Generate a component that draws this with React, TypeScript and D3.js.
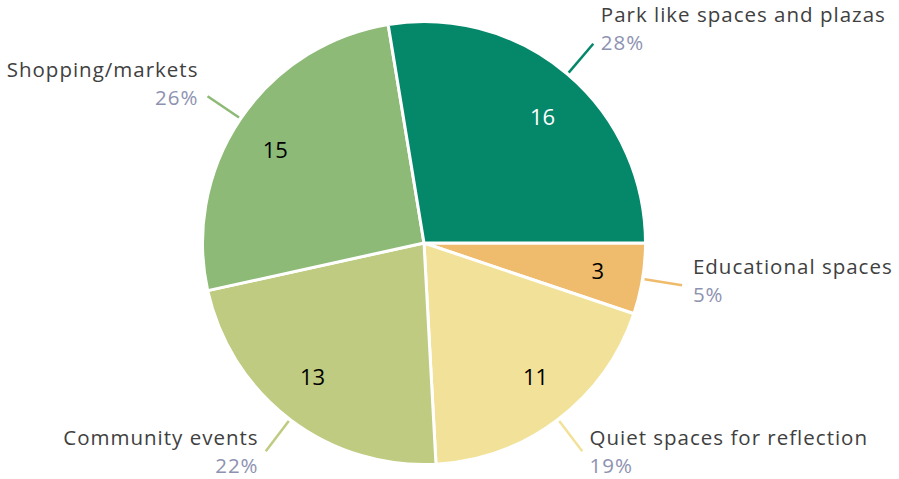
import React from "react";
import * as d3 from "d3";

const categories = [
  "Educational spaces",
  "Quiet spaces for reflection",
  "Community events",
  "Shopping/markets",
  "Park like spaces and plazas",
];
const values = [3, 11, 13, 15, 16];
const colors = ["#EFBB6C", "#F2E299", "#BECB80", "#8DBA76", "#05876A"];
const valueTextColors = ["#000000", "#000000", "#000000", "#000000", "#FFFFFF"];

const W = 899;
const H = 479;
const cx = 424;
const cy = 243;
const R = 221.5;
const FONT = "'Open Sans', sans-serif";

export default function App() {
  const total = d3.sum(values);
  const pie = d3
    .pie<number>()
    .sort(null)
    .startAngle(Math.PI / 2)
    .endAngle(Math.PI / 2 + 2 * Math.PI);
  const arcs = pie(values);
  const arc = d3.arc<d3.PieArcDatum<number>>().innerRadius(0).outerRadius(R);

  const pt = (a: number, r: number) => [Math.sin(a) * r, -Math.cos(a) * r];

  return (
    <svg
      width={W}
      height={H}
      style={{ position: "absolute", left: 0, top: 0, background: "#fff" }}
      fontFamily={FONT}
    >
      <g transform={`translate(${cx},${cy})`}>
        {arcs.map((d, i) => (
          <path key={i} d={arc(d) || ""} fill={colors[i]} stroke="#fff" strokeWidth={3} strokeLinejoin="round" />
        ))}
        {arcs.map((d, i) => {
          const a = (d.startAngle + d.endAngle) / 2;
          const [bx, by] = pt(a, R * 0.79);
          const x = bx + 7 * Math.sign(Math.sin(a)) * Math.abs(Math.cos(a));
          const y = by + 8 * Math.cos(a);
          return (
            <text
              key={"v" + i}
              x={x}
              y={y}
              textAnchor="middle"
              dominantBaseline="central"
              fontSize={22}
              fill={valueTextColors[i]}
            >
              {values[i]}
            </text>
          );
        })}
        {arcs.map((d, i) => {
          const a = (d.startAngle + d.endAngle) / 2;
          const [x1, y1] = pt(a, R + 2);
          const [x2, y2] = pt(a, R + 40);
          const right = Math.sin(a) > 0;
          const gap = 5 + 6 * Math.sin(a) * Math.sin(a);
          const tx = right ? x2 + gap : x2 - gap;
          const c = Math.cos(a);
          const centerY = y2 - 6 - (c > 0 ? 11 : 8) * c;
          const pct = Math.round((values[i] / total) * 100) + "%";
          return (
            <g key={"l" + i}>
              <line x1={x1} y1={y1} x2={x2} y2={y2} stroke={colors[i]} strokeWidth={2.5} />
              <text
                x={tx}
                y={centerY - 7}
                textAnchor={right ? "start" : "end"}
                fontSize={20.5}
                letterSpacing={1}
                fill="#404040"
              >
                {categories[i]}
              </text>
              <text
                x={tx}
                y={centerY + 21}
                textAnchor={right ? "start" : "end"}
                fontSize={20.5}
                letterSpacing={1}
                fill="#8E92B1"
              >
                {pct}
              </text>
            </g>
          );
        })}
      </g>
    </svg>
  );
}
